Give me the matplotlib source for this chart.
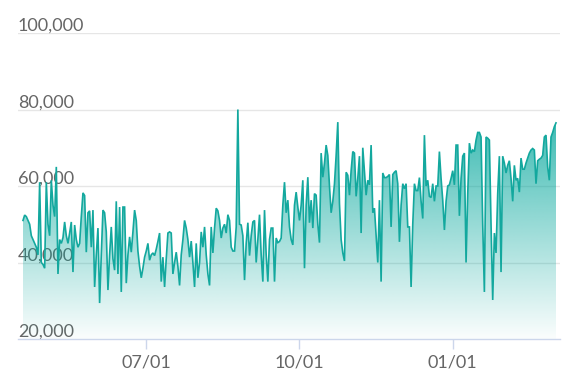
import numpy as np
import pandas as pd
import matplotlib
matplotlib.use("Agg")
import matplotlib.pyplot as plt
import matplotlib.dates as mdates
from matplotlib.patches import Polygon

# ---- data ----
start_date = "2018-04-18"
values = [
    51000, 52400, 52000, 51000, 50000, 47000, 46000, 45000, 44000, 42000,
    61000, 40000, 39500, 38500, 61000, 50000, 47000, 61500, 55000, 52000,
    65000, 37000, 46000, 45000, 46500, 50600, 47000, 45000, 47700, 50600,
    37500, 49800, 46000, 44000, 45000, 52000, 58200, 57500, 42700, 53000,
    53500, 44000, 53700, 33600, 42000, 49000, 29400, 42000, 53700, 53000,
    48000, 32800, 42000, 49300, 41000, 38000, 56000, 37000, 54500, 32300,
    54500, 54500, 34600, 42000, 46700, 42700, 48000, 53700, 51000, 43000,
    39000, 36000, 38500, 41400, 43000, 45000, 40600, 42000, 42500, 41800,
    43500, 45500, 47700, 35000, 41400, 33600, 41000, 47700, 48000, 47700,
    37000, 40000, 42700, 39000, 34000, 42000, 46000, 51000, 49000, 46000,
    41400, 45600, 40000, 33600, 45000, 36000, 40000, 48000, 44000, 49300,
    42000, 37000, 34000, 49300, 42500, 49000, 54200, 53500, 51000, 46400,
    49000, 50000, 47700, 52500, 51000, 44000, 43000, 43000, 49300, 80000,
    50000, 49800, 47000, 35400, 45000, 50400, 41800, 47000, 50600, 51000,
    40000, 46000, 52500, 42000, 35000, 53700, 42000, 35000, 46000, 49000,
    49000, 35000, 46400, 45200, 45500, 46400, 55000, 61000, 53000, 56300,
    49300, 46000, 44600, 55000, 58400, 54500, 51000, 55000, 61500, 38500,
    55000, 62300, 50400, 56300, 49000, 58000, 57600, 50000, 45200, 68600,
    62300, 66000, 70700, 68000, 60000, 53000, 56000, 60600, 68000, 76700,
    55400, 46000, 42500, 40400, 63600, 62800, 57600, 64000, 69000, 68600,
    57300, 62000, 67800, 47700, 70000, 64000, 57600, 61500, 60300, 70700,
    53000, 54200, 47000, 40000, 56300, 35000, 63400, 62200, 62200, 62500,
    63000, 49300, 63000, 63600, 64000, 60600, 45400, 55000, 60600, 59300,
    60600, 49300, 49300, 33600, 50000, 60600, 58800, 58800, 62200, 56000,
    51500, 73300, 60000, 61500, 57300, 57000, 60600, 56000, 60000, 60000,
    69000, 62000, 56300, 48500, 56000, 60000, 60300, 62000, 64000, 60300,
    70700, 70700, 52200, 62000, 67800, 68600, 40000, 58000, 71200, 68600,
    69400, 69000, 72000, 74000, 74000, 72800, 50000, 32300, 72800, 72500,
    72000, 50000, 30200, 47700, 42500, 58000, 67800, 37500, 67800, 66000,
    63400, 65400, 66600, 62000, 56000, 65400, 61500, 62000, 58400, 67300,
    64400, 64400, 66000, 67300, 68600, 69400, 69800, 69400, 60600, 66600,
    67000, 67300, 68000, 72800, 73300, 65000, 61500, 72800, 74000, 75500,
    76500,
]
y_ticks = [20000, 40000, 60000, 80000, 100000]
y_tick_labels = ["20,000", "40,000", "60,000", "80,000", "100,000"]
x_ticks = ["2018-07-01", "2018-10-01", "2019-01-01"]
x_tick_labels = ["07/01", "10/01", "01/01"]

dates = pd.date_range(start_date, periods=len(values), freq="D")
xd = mdates.date2num(dates)
vals = np.array(values, dtype=float)

plt.rcParams['font.family'] = ['Lato', 'DejaVu Sans']

fig = plt.figure(figsize=(5.70, 3.89), dpi=100)
ax = fig.add_axes([18/570, 1-339/389, (560-18)/570, (339-33)/389])
ax.set_xlim(xd[0] - 3.0, xd[-1] + 2.4)
ax.set_ylim(20000, 100000)

label_col = "#666666"
grid_col = "#e6e6e6"
axis_col = "#ccd6eb"
teal = (0/255, 166/255, 155/255)

# grid lines
for v in y_ticks[1:]:
    ax.axhline(v, color=grid_col, lw=1.0, zorder=1)

# y labels (drawn in plot area, above grid lines)
for v, lab in zip(y_ticks, y_tick_labels):
    ax.annotate(lab, xy=(0, v), xycoords=("axes fraction", "data"),
                xytext=(0, 1.6), textcoords="offset points",
                ha="left", va="baseline", fontsize=13, color=label_col, zorder=2)

# gradient area fill
verts = np.column_stack([np.concatenate([[xd[0]], xd, [xd[-1]]]),
                         np.concatenate([[20000], vals, [20000]])])
poly = Polygon(verts, closed=True, facecolor="none", edgecolor="none")
ax.add_patch(poly)
n = 256
grad = np.zeros((n, 1, 4))
grad[:, 0, 0] = teal[0]
grad[:, 0, 1] = teal[1]
grad[:, 0, 2] = teal[2]
grad[:, 0, 3] = np.linspace(0.8, 0.02, n)
im = ax.imshow(grad, aspect="auto", origin="upper",
               extent=[xd[0], xd[-1], 20000, 80000], zorder=3,
               interpolation="bilinear")
im.set_clip_path(poly)

# line
ax.plot(xd, vals, color="#13a89e", lw=1.2, zorder=4, solid_joinstyle="miter")

# axes styling
for s in ["top", "right", "left"]:
    ax.spines[s].set_visible(False)
ax.spines["bottom"].set_color(axis_col)
ax.spines["bottom"].set_linewidth(1.0)
ax.spines["bottom"].set_zorder(5)
ax.set_yticks([])
ax.set_xticks(mdates.date2num(pd.to_datetime(x_ticks)))
ax.set_xticklabels(x_tick_labels)
ax.tick_params(axis="x", length=7.5, width=1.0, color=axis_col,
               labelsize=13, labelcolor=label_col, pad=3.5)

fig.savefig("out.png", dpi=100)
